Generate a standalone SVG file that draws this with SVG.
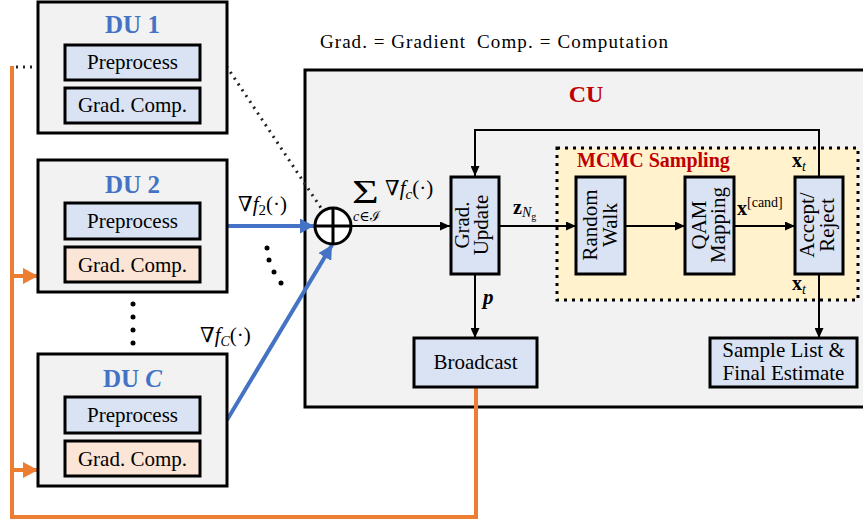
<svg xmlns="http://www.w3.org/2000/svg" width="863" height="520" viewBox="0 0 863 520" font-family="'Liberation Serif', 'Times New Roman', 'DejaVu Serif', serif">
<style>
text{font-family:'Liberation Serif','Times New Roman','DejaVu Serif',serif;fill:#000}
.du{fill:#f2f2f2;stroke:#000;stroke-width:3}
.bl{fill:#dae3f3;stroke:#000;stroke-width:3}
.pe{fill:#fbe5d6;stroke:#000;stroke-width:3}
.t{font-size:21px;text-anchor:middle}
.dut{font-size:25px;font-weight:bold;fill:#4472c4;text-anchor:middle}
.red{font-weight:bold;fill:#c00000}
.ln{fill:none;stroke:#000;stroke-width:2}
.blue{fill:none;stroke:#4472c4;stroke-width:4}
.or{fill:none;stroke:#ed7d31;stroke-width:4}
.m{font-size:21px}
</style>
<defs>
<marker id="ab" markerUnits="userSpaceOnUse" markerWidth="10" markerHeight="9" refX="10" refY="4.5" orient="auto"><path d="M0,0L10,4.5L0,9z" fill="#000"/></marker>
<marker id="au" markerUnits="userSpaceOnUse" markerWidth="14" markerHeight="15" refX="14" refY="7.5" orient="auto"><path d="M0,0L14,7.5L0,15z" fill="#4472c4"/></marker>
<marker id="ao" markerUnits="userSpaceOnUse" markerWidth="15" markerHeight="16" refX="15" refY="8" orient="auto"><path d="M0,0L15,8L0,16z" fill="#ed7d31"/></marker>
</defs>

<text y="48" font-size="19"><tspan x="320" textLength="145" lengthAdjust="spacing">Grad. = Gradient</tspan><tspan x="477" textLength="191" lengthAdjust="spacing">Comp. = Computation</tspan></text>

<g id="CU">
<rect x="305" y="70" width="570" height="337" class="du"/>
<text x="586" y="102" font-size="24" class="red" text-anchor="middle">CU</text>
</g>

<g id="MCMC">
<rect x="557" y="148" width="301" height="152" fill="#fff2cc" stroke="#000" stroke-width="3" stroke-dasharray="3 5"/>
<text x="577" y="167" font-size="20" class="red">MCMC Sampling</text>
</g>

<g id="connectors">
<path d="M16 67 H 227 L 321 208" fill="none" stroke="#222" stroke-width="3" stroke-dasharray="2 5"/>
<path d="M476 387 V 517 H 12 V 66" class="or"/>
<path d="M12 276 H 38" class="or" marker-end="url(#ao)"/>
<path d="M12 470 H 38" class="or" marker-end="url(#ao)"/>
<path d="M227 226 H 314" class="blue" marker-end="url(#au)"/>
<path d="M227 420 L 332 245" class="blue" marker-end="url(#au)"/>
<path d="M351 226 H 450" class="ln" marker-end="url(#ab)"/>
<path d="M499 226 H 576" class="ln" marker-end="url(#ab)"/>
<path d="M625 226 H 685" class="ln" marker-end="url(#ab)"/>
<path d="M734 226 H 795" class="ln" marker-end="url(#ab)"/>
<path d="M819 177 V 130 H 475 V 176" class="ln" marker-end="url(#ab)"/>
<path d="M475 274 V 338" class="ln" marker-end="url(#ab)"/>
<path d="M819 274 V 338" class="ln" marker-end="url(#ab)"/>
<g fill="#000">
<circle cx="133" cy="304" r="2.5"/><circle cx="133" cy="317" r="2.5"/><circle cx="133" cy="330" r="2.5"/><circle cx="133" cy="343" r="2.5"/>
<circle cx="267" cy="248" r="2.5"/><circle cx="269" cy="260" r="2.5"/><circle cx="274" cy="272" r="2.5"/><circle cx="281" cy="283" r="2.5"/>
</g>
<text x="238" y="211" class="m">∇<tspan font-style="italic">f</tspan><tspan font-size="15" dy="4">2</tspan><tspan dy="-4">(·)</tspan></text>
<text x="200" y="342" class="m">∇<tspan font-style="italic">f</tspan><tspan font-size="14" font-style="italic" dy="4">C</tspan><tspan dy="-4">(·)</tspan></text>
<text transform="translate(352 203) scale(1.35 1)" font-size="34">Σ</text>
<text x="353" y="221" font-size="14"><tspan font-style="italic">c</tspan>∈ℐ</text>
<text x="385" y="195" class="m">∇<tspan font-style="italic">f</tspan><tspan font-size="15" font-style="italic" dy="4">c</tspan><tspan dy="-4">(·)</tspan></text>
<text x="513" y="214" font-size="20"><tspan font-weight="bold">z</tspan><tspan font-size="14" font-style="italic" dy="3">N</tspan><tspan font-size="10" dy="3">g</tspan></text>
<text x="737" y="215" font-size="20"><tspan font-weight="bold">x</tspan><tspan font-size="14" dy="-8">[cand]</tspan></text>
<text x="792" y="167" font-size="20"><tspan font-weight="bold">x</tspan><tspan font-size="14" font-style="italic" dy="4">t</tspan></text>
<text x="792" y="290" font-size="20"><tspan font-weight="bold">x</tspan><tspan font-size="14" font-style="italic" dy="4">t</tspan></text>
<text x="483" y="304" font-size="21" font-weight="bold" font-style="italic">p</text>
</g>

<g id="sum">
<circle cx="333" cy="226" r="18" fill="#fff" stroke="#000" stroke-width="3"/>
<path d="M315 226 H 351 M333 208 V 244" stroke="#000" stroke-width="3"/>
</g>

<g id="DU1">
<rect x="38" y="2" width="189" height="131" class="du"/>
<text x="132.5" y="33" class="dut">DU 1</text>
<rect x="65" y="45" width="135" height="35" class="bl"/>
<text x="132.5" y="69" class="t">Preprocess</text>
<rect x="65" y="88" width="135" height="35" class="bl"/>
<text x="132.5" y="112" class="t">Grad. Comp.</text>
</g>

<g id="DU2">
<rect x="38" y="160" width="189" height="132" class="du"/>
<text x="132.5" y="193" class="dut">DU 2</text>
<rect x="65" y="203" width="135" height="36" class="bl"/>
<text x="132.5" y="228" class="t">Preprocess</text>
<rect x="65" y="247" width="135" height="35" class="pe"/>
<text x="132.5" y="272" class="t">Grad. Comp.</text>
</g>

<g id="DUC">
<rect x="38" y="354" width="189" height="132" class="du"/>
<text x="132.5" y="387" class="dut">DU <tspan font-style="italic">C</tspan></text>
<rect x="65" y="397" width="135" height="36" class="bl"/>
<text x="132.5" y="422" class="t">Preprocess</text>
<rect x="65" y="441" width="135" height="35" class="pe"/>
<text x="132.5" y="466" class="t">Grad. Comp.</text>
</g>

<g id="GradUpdate">
<rect x="451" y="177" width="48" height="97" class="bl"/>
<text transform="translate(475 225) rotate(-90)" class="t"><tspan x="0" y="-6">Grad.</tspan><tspan x="0" y="13">Update</tspan></text>
</g>

<g id="RandomWalk">
<rect x="576" y="177" width="49" height="97" class="bl"/>
<text transform="translate(600.5 225) rotate(-90)" class="t"><tspan x="0" y="-4">Random</tspan><tspan x="0" y="16">Walk</tspan></text>
</g>

<g id="QAM">
<rect x="685" y="177" width="49" height="97" class="bl"/>
<text transform="translate(709.5 225) rotate(-90)" class="t"><tspan x="0" y="-4">QAM</tspan><tspan x="0" y="15">Mapping</tspan></text>
</g>

<g id="AcceptReject">
<rect x="795" y="177" width="48" height="97" class="bl"/>
<text transform="translate(819 225) rotate(-90)" class="t"><tspan x="0" y="-5">Accept/</tspan><tspan x="0" y="15">Reject</tspan></text>
</g>

<g id="Broadcast">
<rect x="414" y="338" width="123" height="49" class="bl"/>
<text x="475.5" y="369" class="t">Broadcast</text>
</g>

<g id="SampleList">
<rect x="710" y="338" width="147" height="49" class="bl"/>
<text x="783.5" y="357" class="t">Sample List &amp;</text>
<text x="783.5" y="380" class="t">Final Estimate</text>
</g>
</svg>
